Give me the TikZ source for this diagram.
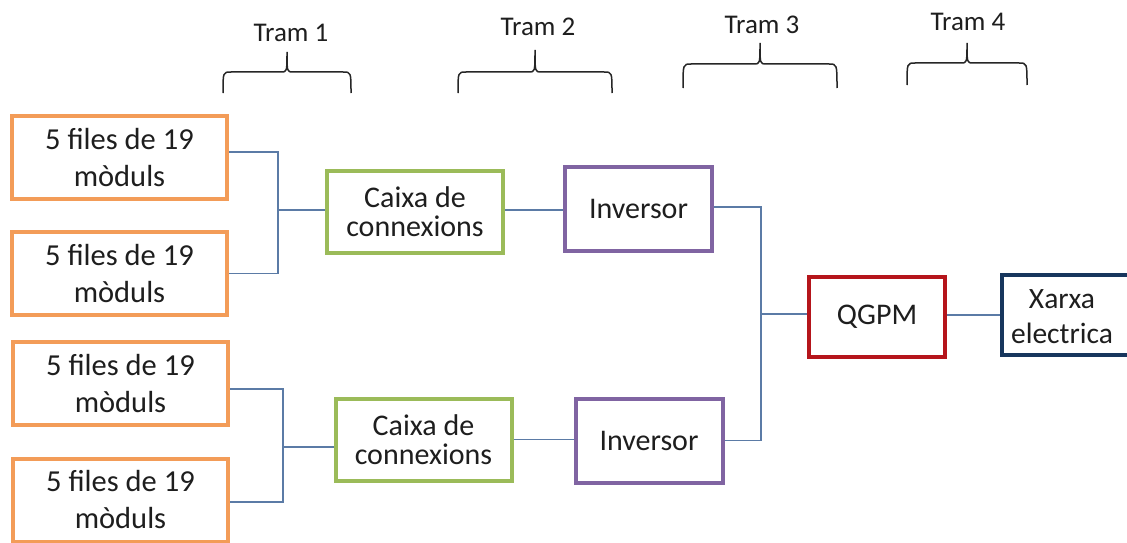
\documentclass[tikz,border=0pt]{standalone}
\usepackage{fontspec}
\setmainfont{Carlito}
\definecolor{corange}{HTML}{F39C58}
\definecolor{cgreen}{HTML}{9BBB59}
\definecolor{cpurple}{HTML}{8064A2}
\definecolor{cred}{HTML}{B5151B}
\definecolor{cnavy}{HTML}{17365D}
\definecolor{cconn}{HTML}{5B7BA6}
\definecolor{ctext}{HTML}{1E1E1E}
\begin{document}
\begin{tikzpicture}[x=1pt,y=-1pt,
  box/.style={draw,line width=4pt,rectangle,align=center,inner sep=0pt,text=ctext,fill=white},
  obox/.style={box,draw=corange,minimum width=215pt,minimum height=83pt,font=\fontsize{30.5}{37}\selectfont},
  gbox/.style={box,draw=cgreen,minimum width=176pt,minimum height=82pt,font=\fontsize{30}{29}\selectfont},
  pbox/.style={box,draw=cpurple,minimum width=147pt,minimum height=84pt,font=\fontsize{30}{35}\selectfont},
  rbox/.style={box,draw=cred,minimum width=136pt,minimum height=80pt,font=\fontsize{30}{35}\selectfont},
  nbox/.style={box,draw=cnavy,minimum width=200pt,minimum height=80pt},
  ntext/.style={align=center,inner sep=0pt,text=ctext,font=\fontsize{29.5}{35}\selectfont},
  conn/.style={draw=cconn,line width=1.2pt},
  brc/.style={draw=black!85,line width=1.5pt},
  tram/.style={inner sep=0pt,text=ctext,font=\fontsize{27}{30}\selectfont}]
\clip (0,0) rectangle (1127,543);
\fill[white] (0,0) rectangle (1127,543);
% tram labels and braces
\node[tram] (t1) at (291,33) {Tram 1};
\node[tram] (t2) at (538,27) {Tram 2};
\node[tram] (t3) at (762,25) {Tram 3};
\node[tram] (t4) at (968,22) {Tram 4};
\newcommand\tbrace[6]{%
  \draw[brc] (#1,#6) .. controls (#1,#4) .. (#1+8,#4) -- (#3-6,#4)
    .. controls (#3,#4) .. (#3,#5) .. controls (#3,#4) .. (#3+6,#4)
    -- (#2-8,#4) .. controls (#2,#4) .. (#2,#6);}
\tbrace{223}{351}{287}{72}{52}{93}
\tbrace{458}{612}{535}{72}{50}{93}
\tbrace{683}{837}{760}{64}{43}{88}
\tbrace{907}{1027}{967}{63}{43}{85}
% boxes
\node[obox] (m1) at (119.5,157.5) {5 files de 19\\mòduls};
\node[obox] (m2) at (119.5,273.5) {5 files de 19\\mòduls};
\node[obox] (m3) at (120.5,383.5) {5 files de 19\\mòduls};
\node[obox] (m4) at (120.5,500) {5 files de 19\\mòduls};
\node[gbox] (c1) at (415,212) {Caixa de\\connexions};
\node[gbox] (c2) at (423.5,439.5) {Caixa de\\connexions};
\node[pbox] (i1) at (638.5,209) {Inversor};
\node[pbox] (i2) at (649,440.5) {Inversor};
\node[rbox] (q) at (877,317) {QGPM};
\node[nbox,anchor=west] (xr) at (1000,315) {};
\node[ntext] (xt) at (1062,317) {Xarxa\\electrica};
% connectors
\coordinate (j1) at (278,210);
\coordinate (j2) at (283,447);
\coordinate (j3) at (761,314);
\draw[conn] ([yshift=5.5pt]m1.east) -| (j1);
\draw[conn] (m2.east) -| (j1);
\draw[conn] (j1) -- (j1 -| c1.west);
\draw[conn] ([yshift=-5.5pt]m3.east) -| (j2);
\draw[conn] ([yshift=-2pt]m4.east) -| (j2);
\draw[conn] (j2) -- (j2 -| c2.west);
\draw[conn] ([yshift=2pt]c1.east) -- ([yshift=2pt]c1.east -| i1.west);
\draw[conn] (c2.east) -- (c2.east -| i2.west);
\draw[conn] ([yshift=2pt]i1.east) -| (j3);
\draw[conn] (i2.east) -| (j3);
\draw[conn] (j3) -- (j3 -| q.west);
\draw[conn] ([yshift=2pt]q.east) -- ([yshift=2pt]q.east -| xr.west);
\end{tikzpicture}
\end{document}
